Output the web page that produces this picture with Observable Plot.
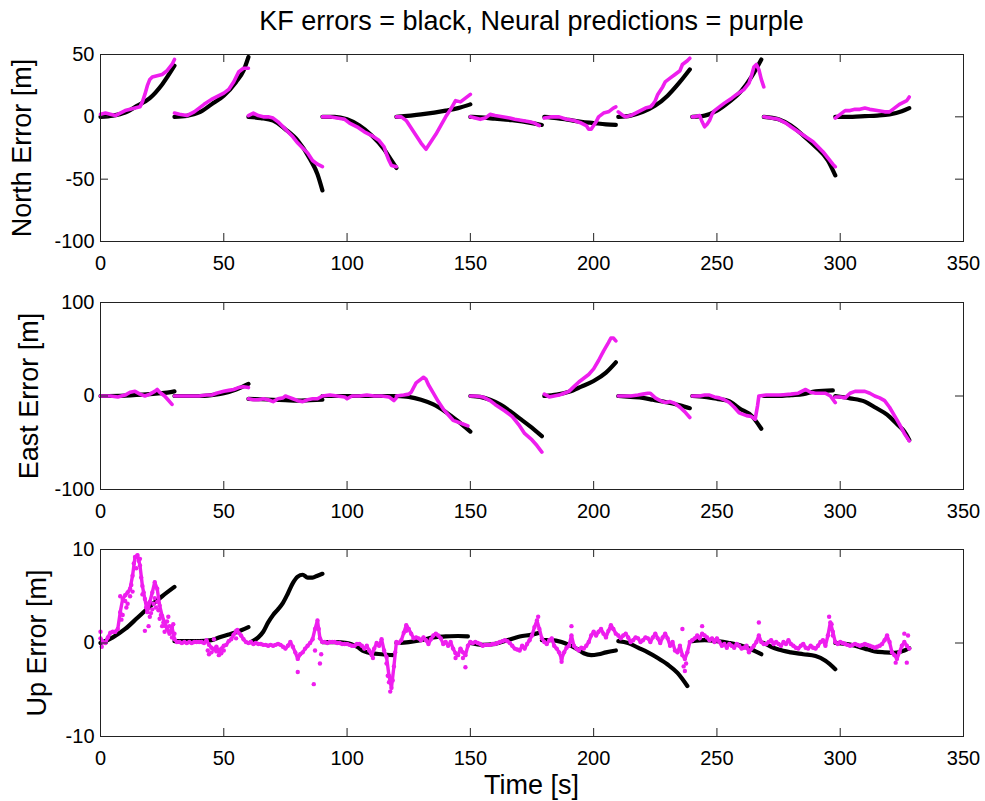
<!DOCTYPE html>
<html>
<head>
<meta charset="utf-8">
<script src="https://cdn.jsdelivr.net/npm/d3@7"></script>
<script src="https://cdn.jsdelivr.net/npm/@observablehq/plot@0.6"></script>
<style>
  body { margin: 0; background: #fff; }
  #fig { position: relative; width: 985px; height: 801px; font-family: "Liberation Sans", Arial, sans-serif; color: #000; }
  .title { position: absolute; left: 100px; width: 863px; top: 8px; text-align: center; font-size: 27px; line-height: 27px; white-space: nowrap; }
  .xlabel { position: absolute; left: 100px; width: 863px; top: 772px; text-align: center; font-size: 27px; line-height: 27px; white-space: nowrap; }
  .panel { position: absolute; left: 0; }
</style>
</head>
<body>
<div id="fig">
  <div class="title">KF errors = black, Neural predictions = purple</div>
  <div class="panel" id="north" style="top:44px"></div>
  <div class="panel" id="east" style="top:292px"></div>
  <div class="panel" id="up" style="top:539px"></div>
  <div class="xlabel">Time [s]</div>
</div>
<script>
// Time axis ticks shared by all three panels
const xTicks = [0, 50, 100, 150, 200, 250, 300, 350];

// ---- North error [m]; null separates the 30 s filter segments ----
const northKfT = [0,5,10,15,20,25,30, null, 30,35,40,45,50,55,58,60, null, 60,65,70,75,80,85,88,90, null,
  90,95,100,105,110,115,118,120, null, 120,130,140,145,150, null, 150,154,160,167,175,179, null,
  180,185,190,195,200,205,209, null, 210,215,220,225,230,235,239, null, 240,245,250,255,260,264,268, null,
  269,275,280,285,290,295,298, null, 298,305,310,315,320,325,328];
const northKfV = [0,1,3.5,9,15,26,41, null, 0,0.8,3.5,10,17,28,37,48, null, 0,-1,-3,-10,-19,-34,-46,-59, null,
  0,0,-2,-7,-15,-26,-35,-41, null, 0,2,5,7,10, null, 0,-0.5,-1.5,-2.7,-5,-6.5, null,
  0,-1,-2.5,-4,-5,-6,-6.5, null, 0,1,4,9,17,28,38, null, 0,1,5,12,21,32,46, null,
  0,-2,-7,-15,-24,-35,-47, null, 0,0,0.5,1,2,4.5,7];

const northNnT = [0,2,4,6,8,10,12,14,16,17,18,19,20,21,23,25,27,29,30, null,
  30,32,35,38,40,42,45,48,50,52,54,56,58,60, null,
  60,62,64,66,68,70,72,74,76,78,80,82,84,86,88,90, null,
  90,93,96,99,101,104,107,110,113,115,116,117,118,120, null,
  120,122,124,126,128,130,132,134,136,138,140,142,144,146,148,150, null,
  150,152,154,156,158,160,163,166,168,171,174,176,178, null,
  180,183,186,189,192,195,197,198,199,201,202,204,206,208,209, null,
  210,212,213,215,217,219,221,223,224,225,226,228,229,231,233,235,236,238,239, null,
  240,241,243,244,245,246,247,248,249,251,253,256,258,261,263,264,265,266,267,268,269, null,
  269,272,275,278,280,283,286,289,291,293,295,297,298, null,
  298,300,302,304,306,308,310,312,315,318,320,322,324,326,327,328];
const northNnV = [2,3,2,1,3,5,6,7,8,12,18,25,30,32,33,34,37,42,46, null,
  3,2,1,4,7,10,14,17,19,22,28,36,39,39, null,
  1,3,1,0,0,-1,-4,-8,-12,-16,-21,-25,-29,-35,-38,-40, null,
  0,0,-1,-2,-5,-8,-12,-15,-19,-24,-30,-35,-39,-40, null,
  0,0,-3,-9,-15,-21,-26,-20,-14,-7,0,6,13,12,15,18, null,
  0,-1,-2,-1,2,1,0,-1,-2,-3,-4,-5,-7, null,
  -1,0,0,-2,-3,-5,-7,-10,-10,-4,0,3,4,7,8, null,
  4,1,0,1,3,5,7,8,10,13,18,24,28,31,34,37,42,45,47, null,
  0,0,1,-4,-8,-6,-3,2,5,8,11,15,18,22,27,33,40,42,38,30,24, null,
  0,-1,-2,-5,-8,-12,-16,-20,-24,-28,-33,-38,-40, null,
  -1,2,5,5,6,6,7,6,5,4,4,7,10,12,13,16];

// ---- East error [m] ----
const eastKfT = [0,10,20,25,30, null, 30,40,45,50,55,60, null, 60,65,70,75,80,85,90, null,
  90,100,110,120, null, 120,125,130,135,140,145,150, null, 150,154,158,162,166,170,174,179, null,
  180,185,190,195,200,205,209, null, 210,215,220,224,230,235,239, null, 240,245,250,255,257,259,264,268, null,
  269,275,280,285,290,297, null, 298,304,310,314,319,323,326,328];
const eastKfV = [0,0.5,2,3,5, null, 0,0,1,3,7,13, null, -3,-3.5,-4,-4.5,-5,-4.5,-4, null,
  0,0,0,0, null, 0,-1,-4,-9,-17,-27,-38, null, 0,-1,-4,-9,-16,-24,-32,-43, null,
  0,1.5,4.5,10,16,25,36, null, 0,-1,-2,-4,-7,-10,-13, null, 0,-1,-3,-5.5,-9,-13,-21,-35, null,
  0,0,1,2,5,6, null, 0,-2.5,-6,-12,-20,-30,-38,-47];

const eastNnT = [0,4,7,10,12,14,16,18,20,22,23,24,26,27,29, null,
  30,33,36,40,43,45,47,50,52,54,56,58,60, null,
  60,62,64,66,68,70,72,74,75,76,78,80,82,84,86,88,90, null,
  90,93,96,99,100,102,105,108,111,114,117,119,120, null,
  120,123,125,126,128,130,131,132,133,135,137,139,141,143,145,147,149, null,
  150,152,155,158,160,164,167,170,172,175,177,179, null,
  180,182,184,186,188,190,192,194,196,198,200,202,204,206,207,208,209, null,
  210,213,215,218,220,222,223,225,227,229,231,233,235,237,239, null,
  240,243,245,247,249,251,253,255,257,259,262,264,265.5,266.5,267, null,
  267,270,273,276,280,283,286,288,290,292,294,296,298, null,
  298,300,302,304,306,308,310,312,314,316,318,320,322,324,326,328];
const eastNnV = [0,0,-1,1,4,5,2,0,2,5,7,4,0,-3,-9, null,
  0,0,0,0,1,1,3,5,6,7,9,10,9, null,
  -3,-4,-4,-3,-4,-6,-3,-2,0,-1,-3,-5,-6,-4,-3,-3,0, null,
  0,1,0,-1,-3,0,0,1,0,0,-1,-5,-2, null,
  0,1,2,4,14,18,20,18,12,3,-6,-14,-20,-26,-28,-30,-32, null,
  0,0,-1,-5,-9,-16,-22,-32,-40,-47,-53,-60, null,
  2,-1,0,1,3,5,10,15,19,23,29,38,48,57,62,62,59, null,
  0,0,0,1,2,3,3,-2,-5,-7,-6,-8,-12,-17,-23, null,
  0,0,1,1,-1,-2,-4,-7,-12,-18,-21,-22,-25,-10,0, null,
  0,1,1,1,2,3,7,4,3,3,3,0,-7, null,
  -1,-1,-2,3,5,5,5,3,0,-2,-5,-12,-21,-30,-40,-48];

// ---- Up error [m] ----
const upKfT = [0,5,10,15,20,25,30, null, 30,35,40,45,48,52,55,60, null,
  61,64,66,68,70,72,74,76,78,80,82,84,86,88,90, null, 90,95,100,104,107,110,114,119, null,
  120,125,130,135,140,145,149, null, 150,155,160,165,170,175,178, null,
  179,183,187,190,193,196,199,202,205,209, null, 210,214,218,222,226,230,234,238, null,
  240,245,250,255,260,264,268, null, 269,272,275,280,285,290,294,298, null,
  298,302,306,310,314,318,322,326,328];
const upKfV = [0,0.6,1.5,2.7,3.9,5,6, null, 0.2,0.2,0.2,0.3,0.6,0.9,1.15,1.7, null,
  0.1,0.6,1.2,2.2,3.0,3.6,4.3,5.3,6.4,7.1,7.3,7.0,7.0,7.2,7.4, null, 0.1,0.1,0,-0.4,-0.9,-1.1,-1.2,-1.3, null,
  0,0.1,0.3,0.6,0.7,0.75,0.7, null, 0,-0.2,-0.1,0.3,0.7,0.9,1.1, null,
  0.3,0.3,0.1,-0.2,-0.6,-1.1,-1.3,-1.2,-1.0,-0.8, null, 0.2,0,-0.5,-1.0,-1.6,-2.3,-3.2,-4.6, null,
  0.2,0.3,0.2,0,-0.3,-0.7,-1.2, null, 0,-0.4,-0.7,-1.0,-1.2,-1.4,-1.9,-2.8, null,
  0,-0.1,-0.3,-0.6,-0.9,-1.0,-1.05,-0.8,-0.55];

// Neural prediction, one sample per second from t = 0 s to t = 328 s
const upNnStart = 0;
const upNnV = [
  0.5, 0.1, 0.0, 0.6, 1.1, 1.2, 1.2, 1.5, 3.3, 4.7,
  5.1, 5.4, 5.8, 7.2, 9.2, 9.4, 8.3, 6.1, 4.7, 3.3,
  4.4, 5.4, 6.5, 5.8, 4.0, 2.9, 2.2, 1.5, 1.0, 1.7,
  0.4, 0.1, 0.1, 0.0, 0.1, 0.0, 0.1, 0.0, 0.1, 0.1,
  0.1, 0.1, 0.0, 0.3, -0.2, -0.5, -0.7, -0.4, -0.9, -0.6,
  -0.3, -0.2, 0.2, 0.4, 0.9, 1.3, 1.1, 0.8, 0.4, 0.1,
  0.0, 0.1, -0.1, 0.0, -0.1, -0.1, -0.2, -0.2, -0.3, -0.2,
  -0.3, -0.2, -0.1, -0.2, -0.4, -0.6, -0.3, 0.1, -0.4, -1.0,
  -1.7, -1.2, -1.0, -0.6, -0.3, 0.0, 0.4, 1.5, 2.4, 0.5,
  0.1, 0.1, 0.0, 0.1, 0.1, 0.1, 0.0, 0.0, -0.1, -0.1,
  -0.1, -0.2, -0.3, -0.3, -0.1, -0.1, -0.3, -0.6, -0.3, -0.8,
  -1.3, -0.6, 0.0, -0.3, 0.4, -0.8, -1.5, -3.5, -4.8, -2.5,
  0.1, 0.0, 0.3, 1.1, 1.9, 1.5, 1.0, 0.5, 0.6, 0.5,
  0.3, 0.6, 0.3, -0.1, 0.4, 0.8, 1.0, 0.8, 0.5, -0.1,
  0.1, -0.3, 0.1, -0.6, -1.1, -1.3, -0.6, -1.0, -1.3, -0.3,
  0.1, 0.0, 0.1, 0.0, -0.1, -0.3, -0.2, -0.2, -0.2, -0.1,
  -0.1, 0.0, 0.1, 0.2, 0.3, 0.2, 0.0, -0.3, -0.6, -0.7,
  -0.8, -0.3, -0.6, -0.1, 0.3, 0.8, 1.7, 2.4, 1.5, 0.5,
  0.1, -0.1, 0.3, 0.5, -0.3, -0.6, -1.0, -1.7, -1.0, -0.5,
  -0.3, 0.8, -0.3, -0.6, -0.8, -0.5, -0.6, -0.3, 0.1, 0.8,
  1.2, 0.8, 1.2, 1.5, 1.0, 0.6, 1.3, 1.9, 1.5, 1.0,
  0.8, 0.5, 0.8, 1.0, 0.6, 0.1, 0.3, 0.6, 0.5, 0.1,
  0.3, 0.6, 0.5, 0.1, 0.6, 1.0, 0.5, 0.0, 0.6, 1.0,
  0.5, -0.3, 0.1, -0.8, -1.0, -0.3, -1.3, -1.7, -1.0, 0.1,
  0.3, 0.5, 0.8, 0.5, 1.0, 0.8, 0.6, 0.3, 0.5, 0.1,
  0.5, 0.1, -0.3, -0.1, -0.5, -0.1, -0.3, -0.5, -0.1, -0.3,
  -0.6, -0.5, -0.3, -1.0, -0.6, -0.3, 0.1, 0.8, 0.1, -0.1,
  -0.1, 0.1, 0.3, -0.1, 0.1, -0.1, -0.3, 0.1, -0.1, 0.3,
  -0.1, -0.3, -0.5, -0.6, -0.3, -0.1, -0.5, -0.6, -0.3, -0.5,
  -0.6, -0.3, 0.1, 0.3, -0.3, 0.8, 2.2, 1.2, 0.1, -0.1,
  0.1, 0.0, -0.1, -0.2, -0.3, -0.2, -0.1, -0.2, -0.3, -0.2,
  -0.1, -0.2, -0.3, -0.4, -0.5, -0.4, -0.3, -0.1, 0.3, 0.8,
  0.1, -1.0, -1.3, -1.7, -1.0, -0.3, 0.1, -0.3, -0.6
];
// Scattered neural samples lying off the main trace
const upNnSpreadT = [0,0.5,8,8.5,9,10,10.5,11,12,12.5,13,13.5,14.5,15.5,16,16.5,17,17.5,18,18.5,19,19.5,
  20,20.5,21,21.5,22,22.5,23,23.5,24,24.5,25,25.5,26,26.5,27,27.5,28,28.5,29,29.5,30,
  43.5,44,45,46,47,48,49,50,55,55.5,80,86.5,87,88.5,89,89.5,110.5,116,116.5,117,117.5,118.5,119.5,
  124,144,147,148,177.5,187,191,207,236,236.5,237,237.5,244,267,295.5,296.5,297,322.5,326,327,327.5];
const upNnSpreadV = [1.2,-0.4,5.0,2.5,3.0,4.5,3.8,4.2,5.0,6.2,5.5,8.5,8.0,8.8,9.0,7.0,5.2,5.4,1.3,3.8,4.2,1.8,
  2.8,3.2,3.6,4.2,4.8,3.8,4.4,3.5,2.6,3.0,1.8,2.2,1.2,1.8,2.3,2.8,1.8,1.2,0.6,2.0,1.0,
  -0.8,-1.2,-1.0,0.4,-0.9,-1.3,-1.1,-0.8,0.5,1.4,-3.1,-4.4,-0.8,1.5,-2.2,-1.2,-1.6,-2.2,-3.5,-4.2,-5.2,-4.0,-1.0,
  1.3,-1.6,-1.6,-2.6,2.8,-2.0,1.8,1.6,1.5,-2.5,-3.0,-2.2,1.8,2.2,2.8,2.0,0.8,-2.1,1.0,-2.1,0.8];

const MAGENTA = "#ee1eee";
const FONT = "Liberation Sans, Arial, sans-serif";
const WIDTH = 985, M_LEFT = 100, M_RIGHT = 22, M_TOP = 10, M_BOTTOM = 40, INNER_H = 187, TICK = 8;
const INNER_W = WIDTH - M_LEFT - M_RIGHT;

const toRows = (T, V) => T.map((t, i) => ({t, v: V[i]}));

function panel({kf, nn, spread, yDomain, yTicks, label, labelX, scatter}) {
  const marks = [
    Plot.line(kf, {x: "t", y: "v", stroke: "#000", strokeWidth: 4.2, curve: "monotone-x"}),
    Plot.line(nn, {x: "t", y: "v", stroke: MAGENTA, strokeWidth: scatter ? 3.4 : 3.6, strokeLinejoin: "round"})
  ];
  if (scatter) {
    marks.push(
      Plot.dot(nn, {x: "t", y: "v", r: 2.2, fill: MAGENTA}),
      Plot.dot(spread, {x: "t", y: "v", r: 2.2, fill: MAGENTA})
    );
  }
  marks.push(
    // inward ticks on all four sides of the box
    Plot.tickX(xTicks, {x: d => d, insetTop: INNER_H - TICK, stroke: "#222"}),
    Plot.tickX(xTicks, {x: d => d, insetBottom: INNER_H - TICK, stroke: "#222"}),
    Plot.tickY(yTicks, {y: d => d, insetRight: INNER_W - TICK, stroke: "#222"}),
    Plot.tickY(yTicks, {y: d => d, insetLeft: INNER_W - TICK, stroke: "#222"}),
    Plot.frame({stroke: "#222"}),
    Plot.axisX(xTicks, {tickSize: 0, tickPadding: 14, tickFormat: d => String(d), label: null, fontSize: 20}),
    Plot.axisY(yTicks, {tickSize: 0, tickPadding: 6, tickFormat: d => String(d), label: null, fontSize: 20}),
    Plot.text([label], {text: d => d, frameAnchor: "left", dx: labelX - M_LEFT, rotate: -90,
      textAnchor: "middle", lineAnchor: "middle", fontSize: 27, fill: "#000"})
  );
  return Plot.plot({
    width: WIDTH,
    height: M_TOP + INNER_H + M_BOTTOM,
    marginLeft: M_LEFT, marginRight: M_RIGHT, marginTop: M_TOP, marginBottom: M_BOTTOM,
    x: {domain: [0, 350]},
    y: {domain: yDomain},
    style: {fontFamily: FONT, fontSize: "20px", color: "#000", background: "transparent", overflow: "visible"},
    marks
  });
}

document.getElementById("north").append(panel({
  kf: toRows(northKfT, northKfV), nn: toRows(northNnT, northNnV),
  yDomain: [-100, 50], yTicks: [-100, -50, 0, 50], label: "North Error [m]", labelX: 22
}));
document.getElementById("east").append(panel({
  kf: toRows(eastKfT, eastKfV), nn: toRows(eastNnT, eastNnV),
  yDomain: [-100, 100], yTicks: [-100, 0, 100], label: "East Error [m]", labelX: 29
}));
document.getElementById("up").append(panel({
  kf: toRows(upKfT, upKfV),
  nn: upNnV.map((v, i) => ({t: upNnStart + i, v})),
  spread: toRows(upNnSpreadT, upNnSpreadV),
  yDomain: [-10, 10], yTicks: [-10, 0, 10], label: "Up Error [m]", labelX: 37, scatter: true
}));
</script>
</body>
</html>
